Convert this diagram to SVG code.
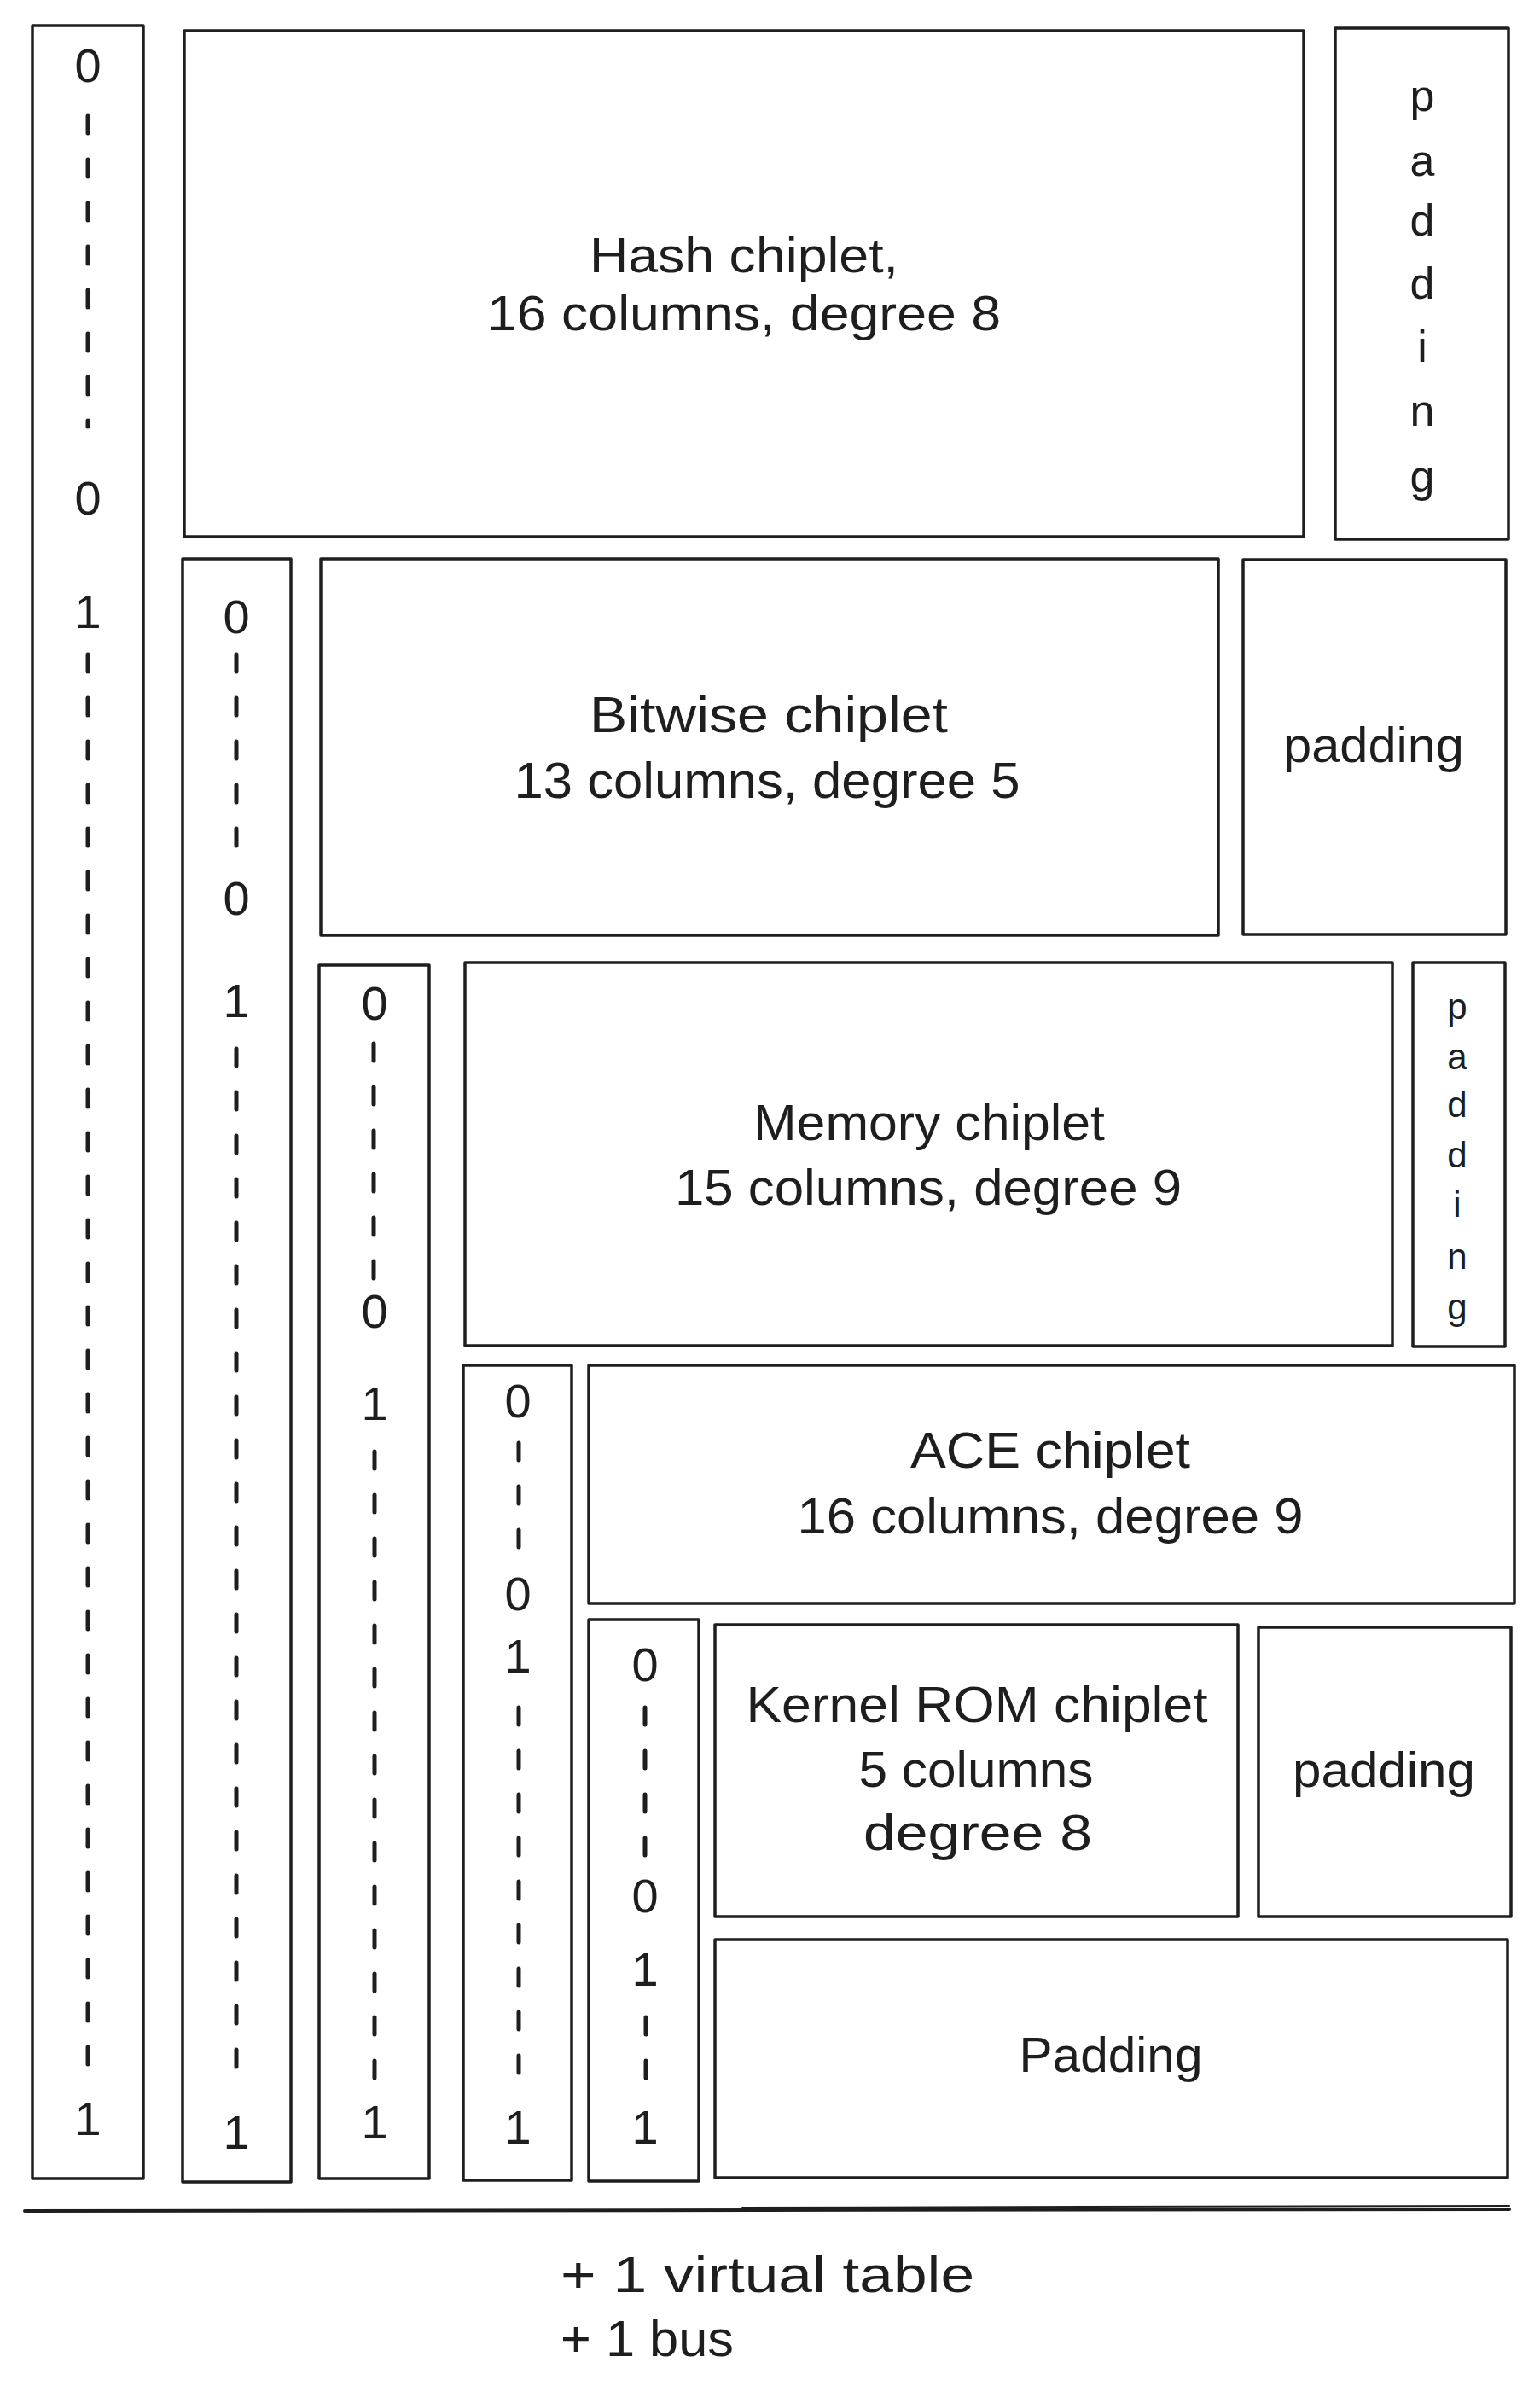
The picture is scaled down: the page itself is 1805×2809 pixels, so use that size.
<svg xmlns="http://www.w3.org/2000/svg" width="1805" height="2809" viewBox="0 0 1805 2809">
<style>
.box{fill:#ffffff;stroke:#1e1e1e;stroke-width:3.5;stroke-linejoin:round}
.lbl{font-family:"Liberation Sans",Arial,sans-serif;fill:#1e1e1e;text-anchor:middle}
.big{font-size:60px}
.mid{font-size:58px}
.dig{font-family:"Liberation Sans",Arial,sans-serif;fill:#1e1e1e;text-anchor:middle;font-size:56px}
.vert{font-family:"Liberation Sans",Arial,sans-serif;fill:#1e1e1e;text-anchor:middle}
.dash{fill:none;stroke:#1e1e1e;stroke-width:5;stroke-linecap:round;stroke-dasharray:20 31}
.foot{font-family:"Liberation Sans",Arial,sans-serif;fill:#1e1e1e;font-size:60px}
</style>
<rect width="1805" height="2809" fill="#ffffff"/>

<g id="col1">
<rect class="box" x="38" y="30" width="130" height="2523"/>
<text class="dig" x="103" y="96">0</text>
<path class="dash" d="M103 136V500"/>
<text class="dig" x="103" y="603">0</text>
<text class="dig" x="103" y="736">1</text>
<path class="dash" d="M103 767V2423"/>
<text class="dig" x="103" y="2502">1</text>
</g>

<g id="col2">
<rect class="box" x="214" y="655" width="127" height="1902"/>
<text class="dig" x="277" y="742">0</text>
<path class="dash" d="M277 767V991"/>
<text class="dig" x="277" y="1072">0</text>
<text class="dig" x="277" y="1192">1</text>
<path class="dash" d="M277 1229V2426"/>
<text class="dig" x="277" y="2518">1</text>
</g>

<g id="col3">
<rect class="box" x="374" y="1131" width="129" height="1422"/>
<text class="dig" x="439" y="1195">0</text>
<path class="dash" d="M438 1223V1498"/>
<text class="dig" x="439" y="1556">0</text>
<text class="dig" x="439" y="1664">1</text>
<path class="dash" d="M439 1701V2445"/>
<text class="dig" x="439" y="2506">1</text>
</g>

<g id="col4">
<rect class="box" x="543" y="1600" width="127" height="955"/>
<text class="dig" x="607" y="1661">0</text>
<path class="dash" d="M608 1691V1814"/>
<text class="dig" x="607" y="1887">0</text>
<text class="dig" x="607" y="1960">1</text>
<path class="dash" d="M608 2001V2429"/>
<text class="dig" x="607" y="2512">1</text>
</g>

<g id="col5">
<rect class="box" x="690" y="1898" width="129" height="658"/>
<text class="dig" x="756" y="1970">0</text>
<path class="dash" d="M756 2001V2180"/>
<text class="dig" x="756" y="2241">0</text>
<text class="dig" x="756" y="2327">1</text>
<path class="dash" d="M757 2364V2448"/>
<text class="dig" x="756" y="2512">1</text>
</g>

<g id="hash">
<rect class="box" x="216" y="36" width="1312" height="593"/>
<text class="lbl mid" x="872" y="319" textLength="362" lengthAdjust="spacingAndGlyphs">Hash chiplet,</text>
<text class="lbl mid" x="872" y="387" textLength="602" lengthAdjust="spacingAndGlyphs">16 columns, degree 8</text>
</g>

<g id="hash-padding">
<rect class="box" x="1565" y="33" width="203" height="599"/>
<text class="vert" x="1667" font-size="52"><tspan x="1667" y="130">p</tspan><tspan x="1667" y="206">a</tspan><tspan x="1667" y="276">d</tspan><tspan x="1667" y="350">d</tspan><tspan x="1667" y="424">i</tspan><tspan x="1667" y="499">n</tspan><tspan x="1667" y="576">g</tspan></text>
</g>

<g id="bitwise">
<rect class="box" x="376" y="655" width="1052" height="441"/>
<text class="lbl big" x="901" y="858" textLength="420" lengthAdjust="spacingAndGlyphs">Bitwise chiplet</text>
<text class="lbl big" x="899" y="935" textLength="593" lengthAdjust="spacingAndGlyphs">13 columns, degree 5</text>
</g>

<g id="bitwise-padding">
<rect class="box" x="1457" y="656" width="308" height="439"/>
<text class="lbl" font-size="58" x="1610" y="893" textLength="212" lengthAdjust="spacingAndGlyphs">padding</text>
</g>

<g id="memory">
<rect class="box" x="545" y="1128" width="1087" height="449"/>
<text class="lbl big" x="1089" y="1336" textLength="412" lengthAdjust="spacingAndGlyphs">Memory chiplet</text>
<text class="lbl big" x="1088" y="1412" textLength="594" lengthAdjust="spacingAndGlyphs">15 columns, degree 9</text>
</g>

<g id="memory-padding">
<rect class="box" x="1656" y="1128" width="108" height="450"/>
<text class="vert" font-size="42"><tspan x="1708" y="1194">p</tspan><tspan x="1708" y="1253">a</tspan><tspan x="1708" y="1309">d</tspan><tspan x="1708" y="1368">d</tspan><tspan x="1708" y="1426">i</tspan><tspan x="1708" y="1487">n</tspan><tspan x="1708" y="1546">g</tspan></text>
</g>

<g id="ace">
<rect class="box" x="690" y="1600" width="1085" height="279"/>
<text class="lbl big" x="1231" y="1720" textLength="328" lengthAdjust="spacingAndGlyphs">ACE chiplet</text>
<text class="lbl big" x="1231" y="1797" textLength="593" lengthAdjust="spacingAndGlyphs">16 columns, degree 9</text>
</g>

<g id="kernel-rom">
<rect class="box" x="838" y="1904" width="613" height="342"/>
<text class="lbl big" x="1145" y="2018" textLength="541" lengthAdjust="spacingAndGlyphs">Kernel ROM chiplet</text>
<text class="lbl big" x="1144" y="2094" textLength="275" lengthAdjust="spacingAndGlyphs">5 columns</text>
<text class="lbl big" x="1146" y="2168" textLength="268" lengthAdjust="spacingAndGlyphs">degree 8</text>
</g>

<g id="kernel-padding">
<rect class="box" x="1475" y="1907" width="296" height="339"/>
<text class="lbl" font-size="58" x="1622" y="2094" textLength="214" lengthAdjust="spacingAndGlyphs">padding</text>
</g>

<g id="padding-bottom">
<rect class="box" x="838" y="2273" width="929" height="279"/>
<text class="lbl" font-size="58" x="1302" y="2428" textLength="215" lengthAdjust="spacingAndGlyphs">Padding</text>
</g>

<g id="separator">
<path d="M29 2591L1769 2589" fill="none" stroke="#1e1e1e" stroke-width="4" stroke-linecap="round"/>
<path d="M870 2587L1769 2585" fill="none" stroke="#1e1e1e" stroke-width="2" stroke-linecap="round"/>
</g>

<g id="footer">
<text class="foot" x="657" y="2686" textLength="485" lengthAdjust="spacingAndGlyphs">+ 1 virtual table</text>
<text class="foot" x="657" y="2761" textLength="203" lengthAdjust="spacingAndGlyphs">+ 1 bus</text>
</g>
</svg>
